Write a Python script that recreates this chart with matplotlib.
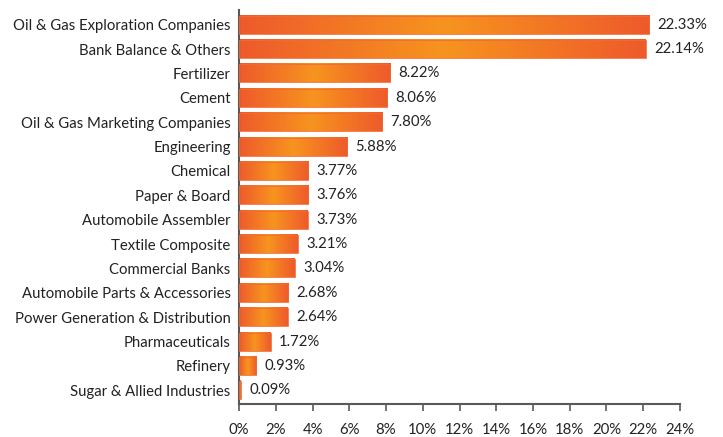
import numpy as np
import matplotlib.pyplot as plt
from matplotlib.colors import LinearSegmentedColormap

sectors = [
    "Oil & Gas Exploration Companies",
    "Bank Balance & Others",
    "Fertilizer",
    "Cement",
    "Oil & Gas Marketing Companies",
    "Engineering",
    "Chemical",
    "Paper & Board",
    "Automobile Assembler",
    "Textile Composite",
    "Commercial Banks",
    "Automobile Parts & Accessories",
    "Power Generation & Distribution",
    "Pharmaceuticals",
    "Refinery",
    "Sugar & Allied Industries",
]
shares = [22.33, 22.14, 8.22, 8.06, 7.80, 5.88, 3.77, 3.76, 3.73, 3.21, 3.04,
          2.68, 2.64, 1.72, 0.93, 0.09]
xticks = list(range(0, 25, 2))

plt.rcParams["font.family"] = ["Lato", "DejaVu Sans"]

fig = plt.figure(figsize=(7.23, 4.37), dpi=100)
ax = fig.add_axes([0.3306, 0.076, 0.6099, 0.901])

cmap = LinearSegmentedColormap.from_list("bar", ["#ee5a2b", "#f7941e", "#ee5a2b"])
grad = np.linspace(0, 1, 256).reshape(1, -1)
h = 0.74

ys = np.arange(len(sectors))
for y, v in zip(ys, shares):
    ax.imshow(grad, cmap=cmap, aspect="auto", extent=(0, v, y + h / 2, y - h / 2),
              zorder=2, interpolation="bilinear")
    ax.barh(y, v, height=h, color="none", edgecolor="#f26b35", linewidth=0.6, zorder=3)
    ax.annotate(f"{v:.2f}%", (v, y), xytext=(6, 0), textcoords="offset points",
                va="center", ha="left", fontsize=10.7, color="#222222")

ax.set_xlim(0, 24)
ax.set_ylim(len(sectors) - 0.45, -0.6)
ax.set_yticks(ys)
ax.set_yticklabels(sectors, fontsize=10.7, color="#222222")
ax.set_xticks(xticks)
ax.set_xticklabels([f"{t}%" for t in xticks], fontsize=10.7, color="#222222")
ax.tick_params(axis="y", length=0, pad=6)
ax.tick_params(axis="x", direction="out", length=5, width=1.2, color="#595959", pad=8.5)
for s in ["top", "right"]:
    ax.spines[s].set_visible(False)
for s in ["left", "bottom"]:
    ax.spines[s].set_color("#595959")
    ax.spines[s].set_linewidth(1.5)

fig.savefig("out.png", dpi=100)
